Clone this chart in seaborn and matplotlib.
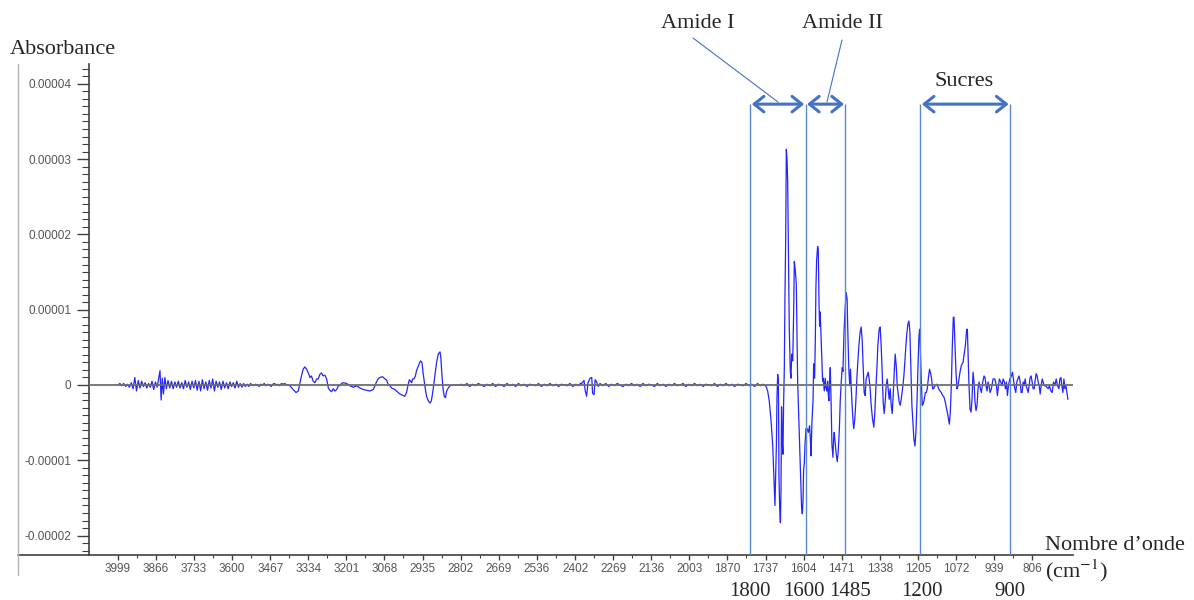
import matplotlib
matplotlib.use('Agg')
import pandas as pd
import matplotlib.pyplot as plt
import matplotlib.transforms as mtransforms
from matplotlib.lines import Line2D
from matplotlib.ticker import FixedLocator, MultipleLocator
import seaborn as sns

# ticks as printed by the instrument software (cm-1)
x_ticks = [3999, 3866, 3733, 3600, 3467, 3334, 3201, 3068, 2935, 2802, 2669,
           2536, 2402, 2269, 2136, 2003, 1870, 1737, 1604, 1471, 1338, 1205,
           1072, 939, 806]
# absorbance in units of 1e-5
y_ticks = [-2, -1, 0, 1, 2, 3, 4]
y_tick_labels = ['-0.00002', '-0.00001', '0', '0.00001', '0.00002', '0.00003', '0.00004']

# band limits drawn over the spectrum
band_edges = [1790, 1597, 1458, 1196, 883]
band_labels = ['1800', '1600', '1485', '1200', '900']
bands = [('Amide I', 1790, 1597), ('Amide II', 1597, 1458), ('Sucres', 1196, 883)]

# spectrum: (wavenumber, absorbance x1e-5)
seg_noise_start = [
    (3999, 0.00), (3992, 0.02), (3986, -0.01), (3979, 0.02), (3972, -0.02), (3966, 0.01),
    (3959, -0.03), (3952, 0.03), (3946, -0.05), (3940, 0.10), (3934, -0.08), (3928, 0.06),
    (3922, -0.04), (3916, 0.05), (3910, -0.02), (3904, 0.03), (3898, -0.04), (3892, 0.02),
    (3886, -0.03), (3880, 0.05), (3874, -0.06), (3868, 0.04), (3862, -0.03), (3857, 0.08),
    (3852, 0.19), (3848, -0.20), (3844, 0.09), (3840, -0.12), (3835, 0.10), (3830, -0.05),
    (3824, 0.06), (3818, -0.04), (3812, 0.05), (3806, -0.05), (3800, 0.04), (3794, -0.03),
    (3788, 0.05), (3782, -0.04), (3776, 0.03), (3770, -0.05), (3764, 0.06), (3758, -0.03),
    (3752, 0.04), (3746, -0.06), (3740, 0.05), (3734, -0.04), (3728, 0.06), (3722, -0.07),
    (3716, 0.05), (3710, -0.08), (3704, 0.07), (3698, -0.05), (3692, 0.04), (3686, -0.07),
    (3680, 0.06), (3674, -0.04), (3668, 0.08), (3662, -0.08), (3656, 0.05), (3650, -0.03),
    (3644, 0.04), (3638, -0.06), (3632, 0.05), (3626, -0.04), (3620, 0.03), (3614, -0.05),
    (3608, 0.04), (3602, -0.02), (3596, 0.03), (3590, -0.04), (3584, 0.05), (3578, -0.03),
    (3572, 0.02), (3566, -0.03), (3560, 0.02), (3554, -0.02), (3548, 0.01), (3542, -0.02),
    (3536, 0.02), (3530, 0.00), (3524, -0.01), (3518, 0.01), (3512, 0.00), (3506, -0.02),
    (3500, 0.01), (3494, 0.00), (3488, 0.02), (3482, -0.01), (3476, 0.01), (3470, 0.00),
    (3464, -0.02), (3458, 0.01), (3452, 0.02), (3446, 0.00), (3440, 0.01), (3434, -0.01),
    (3428, 0.02), (3422, 0.01), (3416, 0.02), (3410, 0.00),
]
seg_ch_region = [
    (3398, -0.01), (3387, -0.06), (3377, -0.10), (3369, -0.08), (3363, 0.03), (3358, 0.12),
    (3352, 0.21), (3346, 0.24), (3340, 0.21), (3334, 0.16), (3328, 0.10), (3323, 0.12),
    (3317, 0.05), (3311, 0.03), (3305, 0.08), (3299, 0.08), (3294, 0.14), (3288, 0.16),
    (3282, 0.12), (3276, 0.13), (3270, 0.08), (3264, -0.04), (3259, -0.07), (3253, -0.09),
    (3247, -0.05), (3241, -0.08), (3235, -0.06), (3229, -0.01), (3224, -0.01), (3218, 0.02),
    (3212, 0.03), (3200, 0.02), (3189, -0.01), (3177, -0.03), (3165, -0.01), (3154, -0.04),
    (3142, -0.06), (3131, -0.07), (3119, -0.08), (3107, -0.06), (3101, -0.01), (3096, 0.04),
    (3090, 0.08), (3084, 0.10), (3075, 0.11), (3066, 0.08), (3061, 0.07), (3055, 0.01),
    (3049, -0.01), (3043, -0.04), (3037, -0.05), (3032, -0.06), (3026, -0.08), (3014, -0.12),
    (3002, -0.14), (2997, -0.15), (2991, -0.10), (2985, 0.01), (2981, 0.07), (2977, 0.05),
    (2973, 0.03), (2970, 0.08), (2965, 0.08), (2960, 0.12), (2956, 0.19), (2950, 0.25),
    (2942, 0.32), (2937, 0.30), (2933, 0.16), (2927, -0.01), (2921, -0.15), (2915, -0.21),
    (2909, -0.24), (2904, -0.21), (2898, -0.06), (2892, 0.12), (2886, 0.30), (2880, 0.41),
    (2874, 0.44), (2871, 0.36), (2867, 0.12), (2863, -0.06), (2859, -0.15), (2855, -0.17),
    (2851, -0.08), (2845, -0.04), (2839, -0.01), (2828, 0.00), (2805, 0.00),
]
seg_flat_1 = [
    (2800, 0.01), (2790, -0.01), (2780, 0.02), (2770, -0.02), (2760, 0.01), (2750, -0.01),
    (2740, 0.02), (2730, 0.00), (2720, -0.02), (2710, 0.01), (2700, -0.01), (2690, 0.02),
    (2680, -0.02), (2670, 0.01), (2660, 0.00), (2650, -0.02), (2640, 0.02), (2630, -0.01),
    (2620, 0.01), (2610, -0.02), (2600, 0.02), (2590, -0.01), (2580, 0.01), (2570, -0.02),
    (2560, 0.01), (2550, 0.00), (2540, -0.01), (2530, 0.02), (2520, -0.02), (2510, 0.01),
    (2500, -0.01), (2490, 0.02), (2480, -0.01), (2470, 0.01), (2460, -0.02), (2450, 0.01),
    (2440, 0.00), (2430, -0.01), (2420, 0.02), (2410, -0.02), (2400, 0.01), (2390, -0.01),
    (2384, 0.02),
]
seg_co2_blip = [
    (2379, 0.02), (2371, 0.06), (2367, -0.07), (2362, -0.15), (2357, 0.03), (2350, 0.09),
    (2344, 0.10), (2341, -0.11), (2336, -0.13), (2332, 0.07), (2327, 0.04), (2321, -0.02),
    (2315, 0.02),
]
seg_flat_2 = [
    (2305, -0.01), (2295, 0.02), (2285, -0.02), (2275, 0.01), (2265, -0.01), (2255, 0.02),
    (2245, 0.00), (2235, -0.02), (2225, 0.01), (2215, -0.01), (2205, 0.02), (2195, -0.01),
    (2185, 0.01), (2175, -0.02), (2165, 0.02), (2155, -0.01), (2145, 0.01), (2135, 0.00),
    (2125, -0.02), (2115, 0.02), (2105, -0.01), (2095, 0.01), (2085, -0.02), (2075, 0.01),
    (2065, -0.01), (2055, 0.02), (2045, -0.01), (2035, 0.00), (2025, 0.02), (2015, -0.02),
    (2005, 0.01), (1995, -0.01), (1985, 0.02), (1975, -0.01), (1965, 0.01), (1955, -0.02),
    (1945, 0.01), (1935, 0.00), (1925, -0.01), (1915, 0.02), (1905, -0.02), (1895, 0.01),
    (1885, -0.01), (1875, 0.02), (1865, -0.01), (1855, 0.01), (1845, -0.02), (1835, 0.01),
    (1825, 0.00), (1815, -0.01), (1805, 0.02), (1795, -0.01), (1785, 0.01), (1775, -0.02),
    (1765, 0.02), (1755, -0.01), (1747, 0.01), (1741, 0.00),
]
seg_amides = [
    (1735, -0.02), (1729.5, -0.08), (1724, -0.21), (1718, -0.46), (1712, -0.79), (1708.5, -1.13),
    (1706, -1.38), (1704, -1.60), (1701.5, -1.21), (1699, -0.79), (1697, -0.17), (1694.5, 0.14),
    (1692, 0.05), (1690, -1.21), (1687.6, -1.63), (1685, -1.83), (1683, -1.42), (1681, -0.29),
    (1678, -0.79), (1676, -0.92), (1674, -0.29), (1671.3, 0.23), (1669, 1.20), (1666.7, 1.89),
    (1664.3, 3.13), (1662, 3.00), (1659.7, 2.72), (1657.4, 1.89), (1654, 0.74), (1650.4, 0.18),
    (1648, 0.09), (1645.7, 0.41), (1642, 0.32), (1638.7, 0.97), (1636.4, 1.64), (1633, 1.52),
    (1629.5, 1.34), (1627, 0.69), (1624.8, 0.05), (1621.3, -0.38), (1617.8, -0.79), (1613, -1.42),
    (1611, -1.63), (1608.5, -1.71), (1606, -1.54), (1604, -1.13), (1601.5, -1.04), (1599, -0.79),
    (1595.7, -0.58), (1592, -0.58), (1587.6, -0.63), (1583, -0.54), (1580.6, -0.71), (1578, -0.94),
    (1575, -0.50), (1571, -0.21), (1569, 0.28), (1565.5, 0.09), (1563, 0.60), (1561, 1.29),
    (1558.5, 1.66), (1555, 1.84), (1552.7, 1.80), (1550, 1.06), (1548, 0.78), (1546, 0.97),
    (1543.4, 0.69), (1541, 0.41), (1537.6, 0.05), (1535, 0.09), (1531.8, -0.08), (1528.3, 0.09),
    (1526, -0.04), (1522.5, -0.08), (1520, 0.05), (1517.8, -0.13), (1515.5, -0.21), (1513, 0.05),
    (1510.8, 0.23), (1508.5, -0.13), (1505, -0.79), (1501.5, -0.96), (1499, -0.71), (1497, -0.63),
    (1493, -0.79), (1490, -0.92), (1486.4, -1.02), (1483, -0.88), (1479, -0.58), (1476, -0.21),
    (1472.4, 0.05), (1469, 0.23), (1466.6, 0.18), (1463, 0.69), (1459.6, 0.97),
]
seg_fingerprint = [
    (1455.5, 1.23), (1452, 1.14), (1449.7, 0.74), (1446, 0.21), (1442.7, -0.01), (1440.3, 0.21),
    (1438, 0.00), (1434.5, -0.27), (1431, -0.50), (1428.7, -0.58), (1425, -0.45), (1421.7, -0.23),
    (1418, 0.08), (1414.7, 0.30), (1411, 0.52), (1406.5, 0.70), (1403, 0.77), (1399.5, 0.61),
    (1396, 0.26), (1392.5, -0.10), (1389, -0.14), (1385.5, 0.08), (1382, 0.12), (1378.5, 0.17),
    (1375, 0.08), (1371.5, -0.05), (1368, -0.27), (1363.3, -0.45), (1358.7, -0.56), (1355, -0.36),
    (1351.7, -0.05), (1348, 0.21), (1344.7, 0.52), (1340, 0.74), (1336.5, 0.77), (1333, 0.52),
    (1329.5, 0.17), (1326, -0.23), (1322.5, -0.38), (1319, -0.23), (1315.5, -0.01), (1312, 0.08),
    (1308.5, -0.05), (1305, -0.19), (1301.5, -0.05), (1298, -0.27), (1294.5, -0.38), (1291, -0.14),
    (1287.5, 0.17), (1284, 0.41), (1280.5, 0.26), (1277, -0.01), (1273.5, -0.12), (1270, -0.23),
    (1266.5, -0.27), (1263, -0.19), (1258.3, -0.05), (1253.7, 0.12), (1249, 0.39), (1244.3, 0.65),
    (1239.7, 0.81), (1236, 0.85), (1232.7, 0.70), (1229, 0.21), (1225.7, -0.27), (1222, -0.50),
    (1218.7, -0.72), (1215, -0.81), (1211.7, -0.63), (1208, -0.23), (1204.7, 0.21), (1201, 0.65),
    (1198.8, 0.74), (1196.5, 0.52), (1193, 0.08), (1189.5, -0.27), (1186, -0.25), (1182.5, -0.19),
    (1179, -0.10), (1175.5, -0.10), (1172, -0.05), (1167.3, 0.12), (1164, 0.21), (1160.3, 0.15),
    (1156.8, 0.08), (1153.3, -0.05), (1149.8, -0.05), (1146.3, -0.01), (1142.8, -0.01), (1139.3, 0.01),
    (1135.8, -0.01), (1132.3, -0.05), (1127.7, -0.08), (1123, -0.10), (1118.3, -0.14), (1113.7, -0.16),
    (1109, -0.23), (1104.3, -0.32), (1099.7, -0.41), (1095, -0.52), (1091.5, -0.36), (1088, -0.01),
    (1084.5, 0.52), (1081, 0.90), (1078.7, 0.90), (1075.2, 0.52), (1071.7, 0.17), (1068.2, -0.05),
    (1064.7, -0.01), (1061.2, 0.08), (1057.7, 0.17), (1053, 0.26), (1047.2, 0.30), (1043.7, 0.39),
    (1039, 0.52), (1034.3, 0.74), (1032, 0.74), (1029.7, 0.43), (1026.2, -0.01), (1022.7, -0.32),
    (1019.2, -0.36), (1015.7, -0.19), (1012.2, 0.17), (1008.7, 0.04), (1005.2, -0.23), (1001.7, -0.34),
    (998.2, -0.27), (994.7, -0.05), (991.2, 0.04), (986.5, -0.05), (983, -0.10), (978.3, 0.04),
    (973.7, 0.12), (970.2, 0.10), (966.7, -0.01), (963.2, -0.08), (959.7, 0.04), (956.2, -0.01),
    (952.7, -0.10), (948, -0.05), (942.2, 0.08), (936.3, 0.08), (930.5, -0.01), (927, -0.14),
    (923.5, -0.01), (920, 0.08), (915.3, 0.04), (910.7, -0.01), (907.2, 0.08), (902.5, 0.04),
    (899, -0.05), (895.5, 0.04), (892, -0.14), (888.5, -0.01), (883.8, 0.08), (878, 0.12),
    (874.5, 0.17), (871, 0.08), (866.3, -0.05), (862.8, -0.10), (859.3, 0.04), (855.8, 0.08),
    (851.2, 0.12), (847.7, 0.04), (844.2, -0.10), (840.7, -0.10), (837.2, 0.04), (833.7, -0.01),
    (830.2, 0.08), (826.7, -0.01), (823.2, -0.05), (819.7, -0.10), (816.2, -0.01), (812.7, 0.10),
    (809.2, 0.12), (805.7, 0.04), (802.2, -0.05), (798.7, -0.05), (795.2, 0.06), (791.7, 0.15),
    (788.2, 0.12), (784.7, 0.04), (781.2, -0.01), (777.7, -0.12), (774.2, -0.01), (770.7, 0.08),
    (767.2, 0.04), (763.7, -0.01), (759, -0.01), (754.3, -0.03), (749.7, -0.05), (745, -0.01),
    (740.3, -0.08), (735.7, -0.10), (731, 0.04), (726.3, -0.01), (721.7, 0.08), (717, -0.01),
    (712.3, -0.05), (708.8, 0.08), (705.3, 0.10), (701.8, -0.01), (698.3, -0.10), (694.8, 0.08),
    (691.3, -0.05), (687.8, -0.01), (684.3, -0.10), (680.8, -0.19),
]

spectrum = (seg_noise_start + seg_ch_region + seg_flat_1 + seg_co2_blip
            + seg_flat_2 + seg_amides + seg_fingerprint)
df = pd.DataFrame(spectrum, columns=['nombre_onde', 'absorbance'])

sns.set_style('white')
plt.rcParams['font.family'] = ['Liberation Sans', 'DejaVu Sans']
plt.rcParams['mathtext.fontset'] = 'stix'
serif = ['Liberation Serif', 'DejaVu Serif']
blue = '#4472c4'

W, H = 1194, 600
fig = plt.figure(figsize=(W / 100, H / 100), dpi=100)
ax = fig.add_axes([89 / W, 45 / H, 984 / W, 491 / H])


def fp(x, y):
    # image pixel (y down) -> figure pixels
    return (x, H - y)


sns.lineplot(data=df, x='nombre_onde', y='absorbance', ax=ax, color='#2424ff',
             linewidth=0.9, estimator=None, sort=False, zorder=2)
ax.axhline(0, color='#6e6e6e', lw=1.3, zorder=3)

ax.set_xlim(4100, 663)
ax.set_ylim(-2.258, 4.263)
ax.set_xlabel('')
ax.set_ylabel('')

for side in ['top', 'right']:
    ax.spines[side].set_visible(False)
for side in ['left', 'bottom']:
    ax.spines[side].set_color('#404040')
    ax.spines[side].set_linewidth(1.2)

ax.xaxis.set_major_locator(FixedLocator(x_ticks))
ax.set_xticklabels([str(t) for t in x_ticks])
ax.xaxis.set_minor_locator(FixedLocator([(a + b) / 2 for a, b in zip(x_ticks[:-1], x_ticks[1:])]))
ax.yaxis.set_major_locator(FixedLocator(y_ticks))
ax.set_yticklabels(y_tick_labels)
ax.yaxis.set_minor_locator(MultipleLocator(0.1))

ax.tick_params(which='both', left=True, bottom=True, direction='out')
ax.tick_params(axis='y', which='major', length=8.6, width=1.0, color='#404040',
               pad=4, labelsize=8.5, labelcolor='#555555')
ax.tick_params(axis='y', which='minor', length=5.4, width=0.8, color='#404040')
ax.tick_params(axis='x', which='major', length=3.6, width=1.0, color='#404040',
               pad=2, labelsize=8.5, labelcolor='#555555')
ax.tick_params(axis='x', which='minor', length=2.2, width=0.8, color='#404040')

# outer frame pieces left of the plot
fig.add_artist(Line2D([18 / W, 89 / W], [45 / H, 45 / H], color='#404040', lw=1.2))
fig.add_artist(Line2D([18 / W, 18 / W], [1 - 64 / H, 1 - 575 / H], color='#b4b4b4', lw=1.0))

# band limits and arrows
arrow_y = 3.73
ax.vlines(band_edges, -2.258, arrow_y, colors='#5b87d0', lw=1.0, zorder=4)
for name, a, b in bands:
    ax.annotate('', xy=(b, arrow_y), xytext=(a, arrow_y),
                arrowprops=dict(arrowstyle='<->,head_length=0.35,head_width=0.28',
                                color=blue, lw=2.2, shrinkA=1, shrinkB=1,
                                mutation_scale=20), zorder=5)

trans = mtransforms.blended_transform_factory(ax.transData, fig.transFigure)
label_shift = [0, -2, 5, 2, 0]  # pixels, as the labels sit in the picture
for edge, lab, dx in zip(band_edges, band_labels, label_shift):
    t = ax.text(edge, 1 - 591 / H, lab, transform=trans, ha='center', va='center',
                fontsize=15, family=serif)
    t.set_transform(trans + mtransforms.Affine2D().translate(dx, 0))

# band names and leader lines
ax.annotate('Amide I', xy=fp(698, 24), xycoords='figure pixels', ha='center',
            va='center', fontsize=16, family=serif)
ax.annotate('Amide II', xy=fp(842, 24), xycoords='figure pixels', ha='center',
            va='center', fontsize=16, family=serif)
ax.annotate('Sucres', xy=fp(964, 82), xycoords='figure pixels', ha='center',
            va='center', fontsize=16, family=serif)
ax.annotate('', xy=fp(778, 102), xytext=fp(693, 38), xycoords='figure pixels',
            arrowprops=dict(arrowstyle='-', color=blue, lw=0.8, shrinkA=0, shrinkB=0))
ax.annotate('', xy=fp(827, 102), xytext=fp(842, 40), xycoords='figure pixels',
            arrowprops=dict(arrowstyle='-', color=blue, lw=0.8, shrinkA=0, shrinkB=0))

# axis titles
ax.annotate('Absorbance', xy=fp(63, 50), xycoords='figure pixels', ha='center',
            va='center', fontsize=16, family=serif)
ax.annotate('Nombre d\u2019onde', xy=fp(1045, 545), xycoords='figure pixels',
            ha='left', va='center', fontsize=16, family=serif)
ax.annotate('(cm$^{-1}$)', xy=fp(1045, 571), xycoords='figure pixels',
            ha='left', va='center', fontsize=16, family=serif)

fig.savefig('out.png', dpi=100)
